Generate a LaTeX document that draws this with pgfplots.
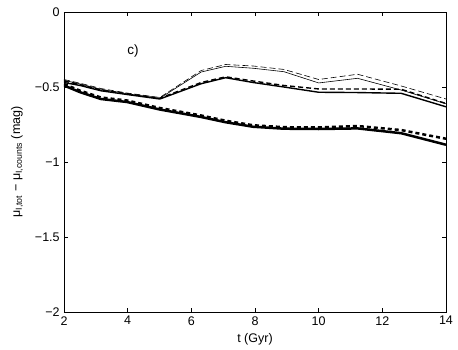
\documentclass[border=0pt]{standalone}
\usepackage{pgfplots}
\pgfplotsset{compat=1.18}
\usepackage{fontspec}
\setmainfont{Liberation Sans}
\begin{document}
\fontsize{12.5}{14}\selectfont
\begin{tikzpicture}
\begin{axis}[
  name=ax,
  scale only axis,
  width=382pt, height=300pt,
  xmin=2, xmax=14, ymin=-2, ymax=0,
  xtick={2,4,...,14},
  ytick={-2,-1.5,-1,-0.5,0},
  yticklabels={−2,−1.5,−1,−0.5,0},
  tick align=inside,
  major tick length=4pt,
  tick style={black, line width=0.5pt},
  axis line style={line width=0.6pt},
  /pgf/number format/assume math mode=true,
  ticklabel style={font=\fontsize{12.5}{14}\selectfont},
  label style={font=\fontsize{12.5}{14}\selectfont},
  xlabel={t (Gyr)},
  ylabel={μ\textsubscript{I,tot} − μ\textsubscript{I,counts} (mag)},
  xlabel style={at={(axis description cs:0.5,-0.09)}, anchor=center},
  ylabel style={at={(axis description cs:-0.123,0.5)}, anchor=center},
]
% thin pair
\addplot[black, line width=0.6pt] coordinates {
 (2,-0.455) (2.51,-0.48) (3.16,-0.515) (3.98,-0.545) (5.01,-0.575) (6.31,-0.40)
 (7.08,-0.362) (7.94,-0.375) (8.91,-0.398) (10,-0.473) (11.22,-0.442) (12.59,-0.52) (14,-0.612)};
\addplot[black, line width=0.6pt, dash pattern=on 6pt off 3pt] coordinates {
 (2,-0.45) (2.51,-0.475) (3.16,-0.51) (3.98,-0.54) (5.01,-0.57) (6.31,-0.39)
 (7.08,-0.35) (7.94,-0.36) (8.91,-0.383) (10,-0.45) (11.22,-0.415) (12.59,-0.493) (14,-0.58)};
% medium pair
\addplot[black, line width=1.4pt] coordinates {
 (2,-0.47) (2.51,-0.49) (3.16,-0.525) (3.98,-0.55) (5.01,-0.58) (6.31,-0.478)
 (7.08,-0.438) (7.94,-0.47) (8.91,-0.50) (10,-0.535) (11.22,-0.537) (12.59,-0.542) (14,-0.632)};
\addplot[black, line width=1.4pt, dash pattern=on 5pt off 3pt] coordinates {
 (2,-0.46) (2.51,-0.485) (3.16,-0.52) (3.98,-0.545) (5.01,-0.575) (6.31,-0.47)
 (7.08,-0.432) (7.94,-0.46) (8.91,-0.49) (10,-0.513) (11.22,-0.513) (12.59,-0.515) (14,-0.61)};
% thick pair
\addplot[black, line width=2.5pt] coordinates {
 (2,-0.49) (2.51,-0.535) (3.16,-0.58) (3.98,-0.60) (5.01,-0.65) (6.31,-0.70)
 (7.08,-0.735) (7.94,-0.765) (8.91,-0.778) (10,-0.78) (11.22,-0.776) (12.59,-0.808) (14,-0.885)};
\addplot[black, line width=2.5pt, dash pattern=on 4pt off 3pt] coordinates {
 (2,-0.48) (2.51,-0.525) (3.16,-0.57) (3.98,-0.59) (5.01,-0.64) (6.31,-0.69)
 (7.08,-0.725) (7.94,-0.755) (8.91,-0.768) (10,-0.77) (11.22,-0.76) (12.59,-0.787) (14,-0.845)};
\node[font=\fontsize{13.5}{15}\selectfont] at (axis cs:4.17,-0.26) {c)};
\end{axis}
\pgfresetboundingbox
\path ([xshift=-64pt,yshift=-37pt]ax.south west) rectangle ([xshift=12pt,yshift=12pt]ax.north east);
\end{tikzpicture}
\end{document}
